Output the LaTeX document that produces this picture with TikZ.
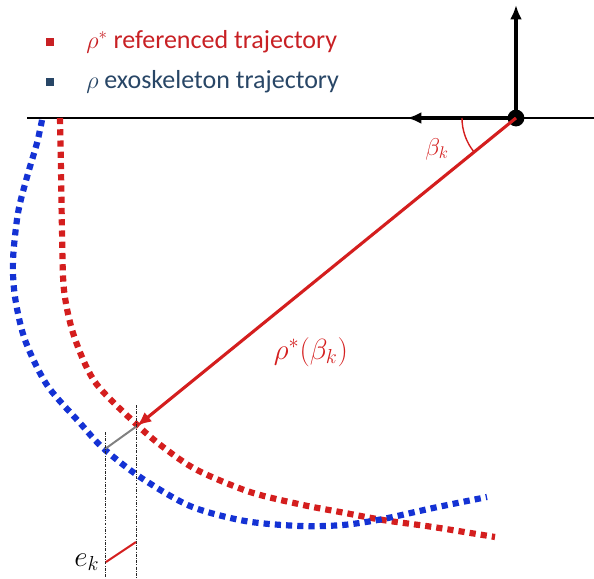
\documentclass[tikz,border=0pt]{standalone}
\usepackage{amsmath,amssymb}
\usepackage{fontspec}
\setmainfont{Carlito}
\usetikzlibrary{arrows.meta}

\definecolor{refred}{RGB}{212,30,30}
\definecolor{exoblue}{RGB}{20,50,212}
\definecolor{legred}{RGB}{200,32,36}
\definecolor{legblue}{RGB}{40,70,102}

\begin{document}
\begin{tikzpicture}[x=0.025cm, y=-0.025cm, >={Latex[length=3.6mm,width=3mm]},
	traj/.style={line width=4.4pt, dash pattern=on 4.4pt off 3.6pt},
	guide/.style={line width=0.6pt, dash pattern=on 2pt off 1pt on 0.6pt off 1pt, black!85},
	legmark/.style={rectangle, inner sep=0pt, minimum size=2mm}]
	\useasboundingbox (0,0) rectangle (594,579);
	% legend
	\node[legmark, fill=legred] (redmark) at (50,42) {};
	\node[legmark, fill=legblue] (bluemark) at (50,82) {};
	\node[anchor=west, inner sep=0pt, legred, font=\fontsize{18.5}{22}\selectfont] (redleg) at (86,42) {$\rho^*$ referenced trajectory};
	\node[anchor=west, inner sep=0pt, legblue, font=\fontsize{18.5}{22}\selectfont] (blueleg) at (86,82) {$\rho$ exoskeleton trajectory};
	% axes
	\node[circle, fill=black, inner sep=0pt, minimum size=4.2mm] (O) at (516,118) {};
	\coordinate (h0) at (27,118);
	\coordinate (h1) at (594,118);
	\coordinate (up) at (516,5);
	\coordinate (left) at (407,118);
	\draw[line width=1.1pt] (h0) -- (h1);
	\draw[->, line width=2.2pt] (O.center) -- (up);
	\draw[->, line width=2.2pt] (O.center) -- (left);
	% trajectories
	\draw[traj, refred] plot[smooth] coordinates {(60,118) (61,170) (62,230) (64,290) (74,336) (95,382) (135,423) (163,447) (197,470) (250,492) (303,505) (340,512) (383,520) (433,527) (495,537)};
	\draw[traj, exoblue] plot[smooth] coordinates {(42,120) (37,143) (27,177) (18,213) (13,260) (15,297) (25,340) (47,385) (80,423) (103,448) (140,477) (190,506) (245,521) (300,526) (343,525) (383,519) (433,508) (487,497)};
	% reference vector and error
	\coordinate (rk) at (137,426);
	\coordinate (bk) at (105,449);
	\draw[->, refred, line width=2.2pt] (O.center) -- (rk);
	\draw[gray, line width=1.4pt] (rk) -- (bk);
	\draw[refred, line width=1pt] (O.center) ++(180:54) arc (180:141:54);
	\node[refred, font=\fontsize{18}{20}\selectfont] (beta) at (437,149) {$\beta_k$};
	\node[refred, font=\fontsize{19.5}{22}\selectfont] (rholab) at (311,352) {$\rho^*(\beta_k)$};
	% projection of e_k
	\coordinate (g1a) at (105,432);
	\coordinate (g1b) at (105,579);
	\coordinate (g2a) at (136,405);
	\coordinate (g2b) at (136,579);
	\draw[guide] (g1a) -- (g1b);
	\draw[guide] (g2a) -- (g2b);
	\coordinate (e0) at (106,562);
	\coordinate (e1) at (136,542);
	\draw[refred, line width=1.4pt] (e0) -- (e1);
	\node[anchor=east, inner sep=1pt, font=\fontsize{20}{22}\selectfont] (ek) at (101,562) {$e_k$};
\end{tikzpicture}
\end{document}
